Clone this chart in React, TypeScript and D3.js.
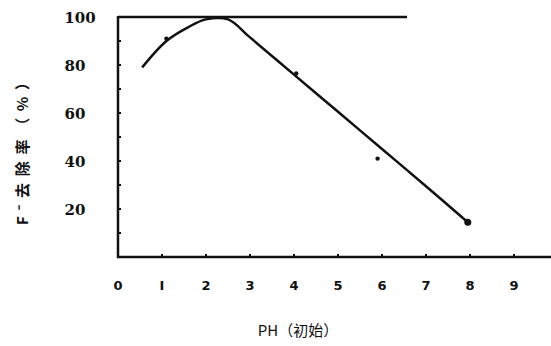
import React from "react";
import * as d3 from "d3";

const xTicks = [0, 1, 2, 3, 4, 5, 6, 7, 8, 9];
const yTickLabels = [20, 40, 60, 80, 100];
const yMinorTicks = [10, 20, 30, 40, 50, 60, 70, 80, 90];
const curvePH = [0.55, 1.1, 1.6, 2.0, 2.5, 3.0, 4.0, 5.0, 6.0, 7.0, 7.95];
const curveRemoval = [79, 90, 95.8, 99, 99, 91.5, 76, 60.5, 45, 29.5, 14.5];
const markerPH = [1.1, 4.05, 5.9, 7.95];
const markerRemoval = [91, 76.5, 41, 14.5];

export default function App() {
  const x = d3.scaleLinear().domain([0, 9]).range([118, 514]);
  const y = d3.scaleLinear().domain([0, 100]).range([257, 17]);
  const line = d3
    .line<number>()
    .x((d, i) => x(curvePH[i]))
    .y((d) => y(d))
    .curve(d3.curveCatmullRom.alpha(0.5));
  const ink = "#111";
  return (
    <svg
      width={551}
      height={346}
      style={{ position: "absolute", left: 0, top: 0, background: "#fff" }}
    >
      {/* top line at 100% */}
      <line x1={x(0)} x2={407} y1={y(100)} y2={y(100)} stroke={ink} strokeWidth={2.5} />
      {/* left axis */}
      <line x1={x(0)} x2={x(0)} y1={y(100) - 1} y2={y(0) + 1} stroke={ink} strokeWidth={2.5} />
      {/* bottom axis */}
      <line x1={x(0) - 1} x2={551} y1={y(0)} y2={y(0)} stroke={ink} strokeWidth={2.5} />
      {yMinorTicks.map((t) => (
        <line key={"yt" + t} x1={x(0)} x2={x(0) + 3} y1={y(t)} y2={y(t)} stroke={ink} strokeWidth={2} />
      ))}
      {xTicks.slice(1).map((t) => (
        <line key={"xt" + t} x1={x(t)} x2={x(t)} y1={y(0)} y2={y(0) - 3} stroke={ink} strokeWidth={2} />
      ))}
      {yTickLabels.map((t) => (
        <text
          key={"yl" + t}
          x={t === 100 ? 80 : 75}
          y={y(t) + 6}
          textAnchor="middle"
          fontFamily="DejaVu Serif"
          fontWeight="bold"
          fontSize={15}
          fill={ink}
        >
          {t}
        </text>
      ))}
      {xTicks.map((t) => (
        <text
          key={"xl" + t}
          x={x(t)}
          y={290}
          textAnchor="middle"
          fontFamily="DejaVu Sans"
          fontWeight="bold"
          fontSize={13}
          fill={ink}
        >
          {t === 1 ? "I" : t}
        </text>
      ))}
      <path d={line(curveRemoval) || ""} fill="none" stroke={ink} strokeWidth={2.5} />
      {markerRemoval.map((v, i) => (
        <circle
          key={"m" + i}
          cx={x(markerPH[i])}
          cy={y(v)}
          r={i === markerRemoval.length - 1 ? 3.5 : 2.2}
          fill={ink}
        />
      ))}
      <text
        x={298}
        y={336}
        textAnchor="middle"
        fontFamily="Noto Sans CJK SC"
        fontSize={15}
        fill={ink}
      >
        PH（初始）
      </text>
      <text
        transform="translate(28,150) rotate(-90)"
        textAnchor="middle"
        fontFamily="Noto Sans CJK SC"
        fontWeight="bold"
        fontSize={15}
        fill={ink}
        textLength={150}
        lengthAdjust="spacing"
      >
        F⁻去除率（%）
      </text>
    </svg>
  );
}
